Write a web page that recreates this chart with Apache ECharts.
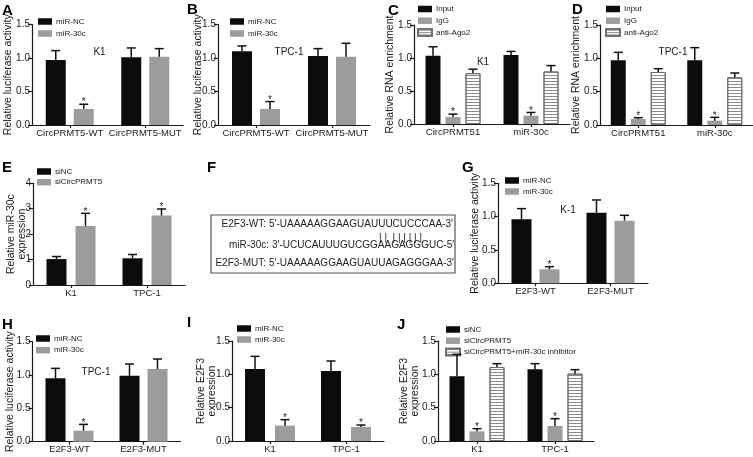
<!DOCTYPE html>
<html><head><meta charset="utf-8">
<script src="https://cdn.jsdelivr.net/npm/echarts@6/dist/echarts.min.js"></script>
<style>html,body{margin:0;padding:0;background:#fff}#c{width:753px;height:457px}</style>
</head><body><div id="c"></div>
<script>
// ---------------- DATA ----------------
const catsCirc = ['CircPRMT5-WT', 'CircPRMT5-MUT'];
const catsRIP = ['CircPRMT51', 'miR-30c'];
const catsCell = ['K1', 'TPC-1'];
const catsE2F3 = ['E2F3-WT', 'E2F3-MUT'];
const yTicks15 = [0, 0.5, 1.0, 1.5];
const yTicks4 = [0, 1, 2, 3, 4];

// A (K1 luciferase)
const A_nc = [0.97, 1.01], A_nc_err = [1.11, 1.15];
const A_mir = [0.24, 1.02], A_mir_err = [0.31, 1.14], A_mir_sig = [1, 0];
// B (TPC-1 luciferase)
const B_nc = [1.10, 1.03], B_nc_err = [1.18, 1.14];
const B_mir = [0.24, 1.02], B_mir_err = [0.35, 1.22], B_mir_sig = [1, 0];
// C (K1 RIP)
const C_in = [1.035, 1.045], C_in_err = [1.17, 1.10];
const C_igg = [0.105, 0.125], C_igg_err = [0.15, 0.175], C_igg_sig = [1, 1];
const C_ago = [0.77, 0.795], C_ago_err = [0.83, 0.885];
// D (TPC-1 RIP)
const D_in = [0.97, 0.97], D_in_err = [1.09, 1.16];
const D_igg = [0.09, 0.065], D_igg_err = [0.11, 0.115], D_igg_sig = [1, 1];
const D_ago = [0.795, 0.715], D_ago_err = [0.845, 0.78];
// E (miR-30c expression)
const E_si = [1.02, 1.05], E_si_err = [1.12, 1.20];
const E_circ = [2.32, 2.73], E_circ_err = [2.82, 2.99], E_circ_sig = [1, 1];
// G (K-1 E2F3 luciferase)
const G_nc = [0.96, 1.06], G_nc_err = [1.12, 1.25];
const G_mir = [0.21, 0.94], G_mir_err = [0.25, 1.02], G_mir_sig = [1, 0];
// H (TPC-1 E2F3 luciferase)
const H_nc = [0.95, 0.99], H_nc_err = [1.10, 1.165];
const H_mir = [0.165, 1.09], H_mir_err = [0.26, 1.24], H_mir_sig = [1, 0];
// I (E2F3 expression)
const I_nc = [1.08, 1.05], I_nc_err = [1.27, 1.20];
const I_mir = [0.23, 0.21], I_mir_err = [0.32, 0.24], I_mir_sig = [1, 1];
// J (E2F3 expression rescue)
const J_si = [0.97, 1.075], J_si_err = [1.30, 1.16];
const J_circ = [0.145, 0.225], J_circ_err = [0.185, 0.335], J_circ_sig = [1, 1];
const J_inh = [1.11, 1.01], J_inh_err = [1.16, 1.07];
// F (sequence panel)
const F_wtLabel = 'E2F3-WT:', F_wtSeq = "5'-UAAAAAGGAAGUAUUUCUCCCAA-3'";
const F_mirLabel = 'miR-30c:', F_mirSeq = "3'-UCUCAUUUGUCGGAAGAGGGUC-5'";
const F_mutLabel = 'E2F3-MUT:', F_mutSeq = "5'-UAAAAAGGAAGUAUUAGAGGGAA-3'";
const F_pairs = '| |  | | | | | |';

// ---------------- FONTS ----------------
const FR = "'Liberation Sans', Arial, sans-serif";
const TXT = '#1a1a1a';
const FS_TICK = 10, FS_CAT = 9.5, FS_LEG = 8, FS_NOTE = 10, FS_F = 10, FS_NAME = 10.5;

// ---------------- STYLES ----------------
const ST_BLACK = { color: '#0b0b0b' };
const ST_GREY = { color: '#9c9c9c' };
const ST_HATCH = { color: '#ffffff', borderColor: '#6e6e6e', borderWidth: 1,
  decal: { symbol: 'rect', symbolSize: 1, dashArrayX: [1, 0], dashArrayY: [1, 2], color: '#8a8a8a' } };

const panels = [
  { id: 'A', grid: { left: 32, top: 24.5, width: 151, height: 100.5 }, cats: catsCirc, ticks: yTicks15,
    yName: 'Relative luciferase activity', nameGap: 18.5, bw: 20, gap: 8,
    series: [{ name: 'miR-NC', v: A_nc, e: A_nc_err, st: ST_BLACK }, { name: 'miR-30c', v: A_mir, e: A_mir_err, s: A_mir_sig, st: ST_GREY }],
    legend: { left: 38, top: 17, gap: 3 }, note: { t: 'K1', x: 99.5, y: 52 }, letter: { x: 2, y: 3 } },
  { id: 'B', grid: { left: 218, top: 24.5, width: 152, height: 100.5 }, cats: catsCirc, ticks: yTicks15,
    yName: 'Relative luciferase activity', nameGap: 14, bw: 20, gap: 8,
    series: [{ name: 'miR-NC', v: B_nc, e: B_nc_err, st: ST_BLACK }, { name: 'miR-30c', v: B_mir, e: B_mir_err, s: B_mir_sig, st: ST_GREY }],
    legend: { left: 230, top: 17, gap: 3 }, note: { t: 'TPC-1', x: 289, y: 52 }, letter: { x: 187, y: 2 } },
  { id: 'C', grid: { left: 414, top: 25, width: 156, height: 99 }, cats: catsRIP, ticks: yTicks15,
    yName: 'Relative RNA enrichment', nameGap: 18.5, bw: 15, gap: 5,
    series: [{ name: 'Input', v: C_in, e: C_in_err, st: ST_BLACK }, { name: 'IgG', v: C_igg, e: C_igg_err, s: C_igg_sig, st: ST_GREY },
             { name: 'anti-Ago2', v: C_ago, e: C_ago_err, st: ST_HATCH }],
    legend: { left: 417, top: 4.5, gap: 2.7 }, note: { t: 'K1', x: 483, y: 62 }, letter: { x: 388, y: 3 } },
  { id: 'D', grid: { left: 600, top: 25, width: 153, height: 100 }, cats: catsRIP, ticks: yTicks15,
    yName: 'Relative RNA enrichment', nameGap: 18.5, bw: 15, gap: 5,
    series: [{ name: 'Input', v: D_in, e: D_in_err, st: ST_BLACK }, { name: 'IgG', v: D_igg, e: D_igg_err, s: D_igg_sig, st: ST_GREY },
             { name: 'anti-Ago2', v: D_ago, e: D_ago_err, st: ST_HATCH }],
    legend: { left: 605, top: 4.5, gap: 2.7 }, note: { t: 'TPC-1', x: 673, y: 52 }, letter: { x: 572, y: 2 } },
  { id: 'E', grid: { left: 33, top: 183.3, width: 152, height: 101.7 }, cats: catsCell, ticks: yTicks4,
    yName: 'Relative miR-30c\nexpression', nameGap: 5.5, bw: 20, gap: 9,
    series: [{ name: 'siNC', v: E_si, e: E_si_err, st: ST_BLACK }, { name: 'siCircPRMT5', v: E_circ, e: E_circ_err, s: E_circ_sig, st: ST_GREY }],
    legend: { left: 37, top: 167, gap: 1.7 }, note: null, letter: { x: 2, y: 160 } },
  { id: 'G', grid: { left: 498, top: 183.3, width: 150, height: 100 }, cats: catsE2F3, ticks: yTicks15,
    yName: 'Relative luciferase activity', nameGap: 17.5, bw: 20, gap: 8,
    series: [{ name: 'miR-NC', v: G_nc, e: G_nc_err, st: ST_BLACK }, { name: 'miR-30c', v: G_mir, e: G_mir_err, s: G_mir_sig, st: ST_GREY }],
    legend: { left: 505, top: 176, gap: 2 }, note: { t: 'K-1', x: 568, y: 210 }, letter: { x: 462, y: 160 } },
  { id: 'H', grid: { left: 32.5, top: 341.7, width: 148, height: 100 }, cats: catsE2F3, ticks: yTicks15,
    yName: 'Relative luciferase activity', nameGap: 17, bw: 20, gap: 8,
    series: [{ name: 'miR-NC', v: H_nc, e: H_nc_err, st: ST_BLACK }, { name: 'miR-30c', v: H_mir, e: H_mir_err, s: H_mir_sig, st: ST_GREY }],
    legend: { left: 36, top: 334, gap: 2.7 }, note: { t: 'TPC-1', x: 96, y: 372 }, letter: { x: 2, y: 317 } },
  { id: 'I', grid: { left: 232, top: 341, width: 152, height: 100 }, cats: catsCell, ticks: yTicks15,
    yName: 'Relative E2F3\nexpression', nameGap: 14, bw: 20, gap: 10,
    series: [{ name: 'miR-NC', v: I_nc, e: I_nc_err, st: ST_BLACK }, { name: 'miR-30c', v: I_mir, e: I_mir_err, s: I_mir_sig, st: ST_GREY }],
    legend: { left: 237, top: 324, gap: 2 }, note: null, letter: { x: 187, y: 315 } },
  { id: 'J', grid: { left: 438, top: 341, width: 156, height: 100 }, cats: catsCell, ticks: yTicks15,
    yName: 'Relative E2F3\nexpression', nameGap: 17, bw: 15, gap: 5,
    series: [{ name: 'siNC', v: J_si, e: J_si_err, st: ST_BLACK }, { name: 'siCircPRMT5', v: J_circ, e: J_circ_err, s: J_circ_sig, st: ST_GREY },
             { name: 'siCircPRMT5+miR-30c inhibitor', v: J_inh, e: J_inh_err, st: ST_HATCH }],
    legend: { left: 445, top: 325, gap: 2.2 }, note: null, letter: { x: 397, y: 317 } }
];

const grids = [], xAxes = [], yAxes = [], series = [], legends = [], graphics = [];

panels.forEach((p, idx) => {
  grids.push(Object.assign({ outerBoundsMode: 'none', containLabel: false }, p.grid));
  const tk = p.ticks;
  const interval = tk[1] - tk[0];
  const decimals = tk.some(t => Math.round(t) !== t) ? 1 : 0;
  xAxes.push({
    type: 'category', gridIndex: idx, data: p.cats,
    axisLine: { show: true, lineStyle: { color: '#1a1a1a', width: 1.2 } },
    axisTick: { show: true, alignWithLabel: true, length: 3, lineStyle: { color: '#1a1a1a', width: 1.2 } },
    axisLabel: { margin: 3, color: TXT, fontFamily: FR, fontSize: FS_CAT, interval: 0 },
    splitLine: { show: false }
  });
  yAxes.push({
    type: 'value', gridIndex: idx, min: tk[0], max: tk[tk.length - 1], interval: interval,
    name: p.yName, nameLocation: 'middle', nameGap: p.nameGap, nameRotate: 90, nameMoveOverlap: false,
    nameTextStyle: { fontFamily: FR, fontSize: FS_NAME, color: TXT, lineHeight: 11 },
    axisLine: { show: true, lineStyle: { color: '#1a1a1a', width: 1.2 } },
    axisTick: { show: true, length: 4, lineStyle: { color: '#1a1a1a', width: 1.2 } },
    axisLabel: { margin: 2, color: TXT, fontFamily: FR, fontSize: FS_TICK, formatter: v => v.toFixed(decimals) },
    splitLine: { show: false }
  });
  const n = p.series.length;
  p.series.forEach((s, k) => {
    series.push({
      type: 'bar', name: s.name, xAxisIndex: idx, yAxisIndex: idx, data: s.v,
      barWidth: p.bw, barGap: (p.gap / p.bw * 100) + '%', itemStyle: s.st, silent: true, z: 2
    });
    const off = (k - (n - 1) / 2) * (p.bw + p.gap);
    series.push({
      type: 'custom', xAxisIndex: idx, yAxisIndex: idx, silent: true, z: 4,
      data: s.v.map((v, i) => [i, v, s.e[i], s.s ? s.s[i] : 0]),
      renderItem: function (params, api) {
        const c0 = api.coord([api.value(0), api.value(1)]);
        const c1 = api.coord([api.value(0), api.value(2)]);
        const x = c0[0] + off;
        const ch = [
          { type: 'line', shape: { x1: x, y1: c0[1], x2: x, y2: c1[1] }, style: { stroke: '#111', lineWidth: 1.5 } },
          { type: 'line', shape: { x1: x - 4.5, y1: c1[1], x2: x + 4.5, y2: c1[1] }, style: { stroke: '#111', lineWidth: 1.5 } }
        ];
        if (api.value(3)) {
          ch.push({ type: 'text', x: x, y: c1[1] - 1.5,
            style: { text: '*', fontSize: 10, fontFamily: FR, fill: '#222', align: 'center', verticalAlign: 'middle' } });
        }
        return { type: 'group', children: ch };
      }
    });
  });
  legends.push({
    left: p.legend.left, top: p.legend.top, orient: 'vertical', padding: 0,
    itemWidth: 14, itemHeight: 6.5, itemGap: p.legend.gap, icon: 'rect', selectedMode: false,
    data: p.series.map(s => s.name),
    textStyle: { fontFamily: FR, fontSize: FS_LEG, color: TXT, lineHeight: 9, padding: [0, 0, 0, -1] }
  });
  if (p.note) {
    graphics.push({ type: 'text', x: p.note.x, y: p.note.y, silent: true,
      style: { text: p.note.t, fontFamily: FR, fontSize: FS_NOTE, fill: TXT, align: 'center', verticalAlign: 'middle' } });
  }
  graphics.push({ type: 'text', x: p.letter.x, y: p.letter.y, silent: true,
    style: { text: p.id, fontFamily: FR, fontWeight: 'bold', fontSize: 15, fill: '#000', align: 'left', verticalAlign: 'top' } });
});

// Panel F
graphics.push({ type: 'text', x: 207, y: 160, silent: true,
  style: { text: 'F', fontFamily: FR, fontWeight: 'bold', fontSize: 15, fill: '#000', align: 'left', verticalAlign: 'top' } });
graphics.push({ type: 'rect', silent: true, shape: { x: 211, y: 215, width: 244, height: 58 },
  style: { fill: 'none', stroke: '#555', lineWidth: 1.2 } });
const fStyle = (t, al) => ({ text: t, fontFamily: FR, fontSize: FS_F, fill: '#222', align: al, verticalAlign: 'middle' });
[
  [266, 224, F_wtLabel, 'right'], [269, 224, F_wtSeq, 'left'],
  [269, 245, F_mirLabel, 'right'], [272, 245, F_mirSeq, 'left'],
  [266, 263, F_mutLabel, 'right'], [269, 263, F_mutSeq, 'left'],
  [379, 238, F_pairs, 'left']
].forEach(r => graphics.push({ type: 'text', x: r[0], y: r[1], silent: true, style: fStyle(r[2], r[3]) }));

const chart = echarts.init(document.getElementById('c'), null, { renderer: 'canvas' });
chart.setOption({
  animation: false,
  backgroundColor: '#ffffff',
  grid: grids, xAxis: xAxes, yAxis: yAxes, series: series, legend: legends, graphic: graphics
});
</script>
</body></html>
